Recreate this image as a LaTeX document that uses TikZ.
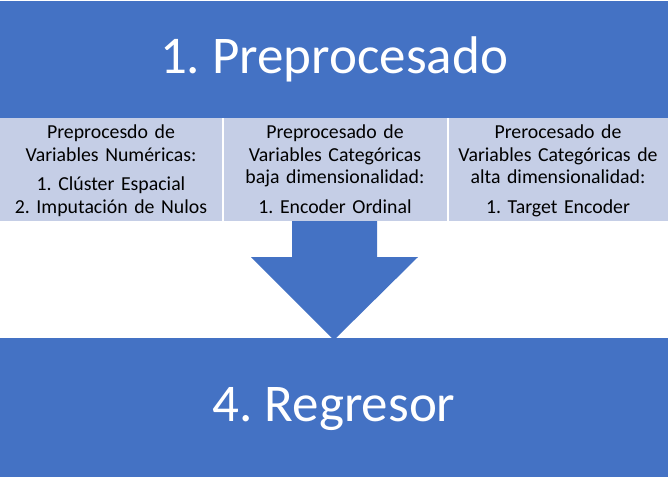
\documentclass[tikz,border=0pt]{standalone}
\usepackage{fontspec}
\setmainfont{Carlito}
\frenchspacing
\definecolor{bandblue}{HTML}{4472C4}
\definecolor{lightblue}{HTML}{C5CEE6}
\tikzset{
  band/.style={fill=bandblue, draw=none, inner sep=0pt},
  cell/.style={fill=lightblue, draw=none, inner sep=0pt},
  bigtitle/.style={text=white, font=\fontsize{53}{60}\selectfont\frenchspacing, inner sep=0pt, anchor=base},
  celltext/.style={text=black, text width=218pt, align=center, inner sep=0pt, anchor=base,
    font=\fontsize{19.8}{22.5}\selectfont\frenchspacing},
}
\begin{document}
\begin{tikzpicture}[x=1pt,y=-1pt]
\useasboundingbox (0,0) rectangle (671,477);
% top band
\path[band] (0,1) rectangle (668,118);
\node[bigtitle] (t1) at (334,73.3) {1. Preprocesado};
% cells
\path[cell] (0,118) rectangle (222,221);
\path[cell] (224,118) rectangle (446.5,221);
\path[cell] (448.5,118) rectangle (668,221);
\node[celltext] (c1) at (111,138.5) {Preprocesdo de\\Variables Numéricas:\\[7pt]1. Clúster Espacial\\2. Imputación de Nulos};
\node[celltext] (c2) at (335,138.5) {Preprocesado de\\Variables Categóricas\\baja dimensionalidad:\\[7pt]1. Encoder Ordinal};
\node[celltext] (c3) at (558,138.5) {Prerocesado de\\Variables Categóricas de\\alta dimensionalidad:\\[7pt]1. Target Encoder};
% arrow
\coordinate (a1) at (292,221);
\coordinate (a2) at (377,221);
\coordinate (a3) at (377,257);
\coordinate (a4) at (418,257);
\coordinate (tip) at (334,340);
\coordinate (a6) at (251,257);
\coordinate (a7) at (292,257);
\fill[bandblue] (a1) -- (a2) -- (a3) -- (a4) -- (tip) -- (a6) -- (a7) -- cycle;
% bottom band
\path[band] (0,338) rectangle (668,477);
\node[bigtitle] (t4) at (334,421.7) {4. Regresor};
\end{tikzpicture}
\end{document}
